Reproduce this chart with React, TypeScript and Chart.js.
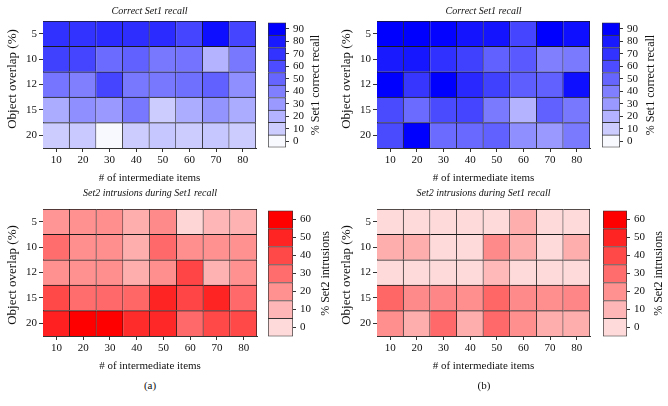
import React, { useEffect, useRef } from 'react';
import { Chart, registerables } from 'chart.js';

Chart.register(...registerables);

// ---------- data ----------
const intermediateItems = ['10', '20', '30', '40', '50', '60', '70', '80'];
const overlapRows = ['5', '10', '12', '15', '20']; // top to bottom
const recallTicks = [0, 10, 20, 30, 40, 50, 60, 70, 80, 90];
const intrusionTicks = [0, 10, 20, 30, 40, 50, 60];

// % Set1 correct recall, rows = overlap 5,10,12,15,20 ; cols = 10..80 items
const recallA = [
  [71, 70, 73, 72, 73, 63, 84, 63],
  [65, 63, 48, 52, 43, 45, 20, 43],
  [44, 40, 63, 43, 43, 46, 52, 34],
  [23, 34, 30, 43, 10, 22, 32, 23],
  [10, 11, 0, 10, 12, 10, 12, 10],
];
const recallB = [
  [90, 90, 89, 82, 82, 63, 90, 84],
  [80, 81, 71, 65, 52, 55, 40, 42],
  [90, 69, 90, 74, 65, 53, 52, 84],
  [61, 48, 61, 63, 42, 20, 52, 43],
  [61, 90, 48, 49, 52, 34, 30, 42],
];
// % Set2 intrusions
const intrusionsA = [
  [19, 20, 21, 12, 22, 1, 10, 11],
  [30, 21, 21, 12, 31, 21, 20, 20],
  [20, 20, 21, 12, 21, 41, 11, 20],
  [40, 30, 31, 32, 50, 41, 50, 31],
  [51, 60, 60, 48, 49, 31, 40, 40],
];
const intrusionsB = [
  [0, 0, 0, 0, 0, 12, 0, 0],
  [12, 12, 0, 0, 22, 12, 0, 12],
  [0, 0, 0, 0, 9, 0, 0, 0],
  [32, 22, 23, 21, 32, 22, 21, 23],
  [21, 12, 31, 12, 31, 21, 12, 12],
];

// ---------- styles ----------
const FONT = "'Liberation Serif', 'DejaVu Serif', serif";
const TEXT = '#111';
const CELL_BORDER = '#1a1a1a';
const AXIS = '#333';

function blueColor(v: number) {
  const x = Math.max(0, Math.min(90, v));
  const c = x <= 10 ? 248 - (44 * x) / 10 : (204 * (90 - x)) / 80;
  const r = Math.round(c);
  return `rgb(${r},${r},255)`;
}
function redColor(v: number) {
  const x = Math.max(0, Math.min(60, v));
  const c = Math.round((218 * (60 - x)) / 60);
  return `rgb(255,${c},${c})`;
}

type HeatProps = {
  values: number[][];
  color: (v: number) => string;
  title: string;
  left: number;
  top: number;
  bottom: number;
  plotL: number;
  plotR: number;
  plotT: number;
  plotB: number;
  titleY: number;
  yTitleX: number;
  yTitleY: number;
};

function Heatmap(p: HeatProps) {
  const ref = useRef<HTMLCanvasElement>(null);
  const width = p.plotR - p.left + 3;
  const height = p.bottom - p.top;
  useEffect(() => {
    const padTop = p.titleY - p.top - 6;
    const padBottom = p.plotT - p.top - 12 - padTop;
    const yWidth = p.plotL - p.left;
    const xHeight = p.bottom - p.plotB;
    const datasets: any[] = [];
    for (let r = p.values.length - 1; r >= 0; r--) {
      datasets.push({
        label: overlapRows[r],
        data: intermediateItems.map(() => 1),
        backgroundColor: p.values[r].map(p.color),
        borderColor: CELL_BORDER,
        borderWidth: { top: 1, right: 1, bottom: 0, left: 0 },
        borderSkipped: false,
        barPercentage: 1,
        categoryPercentage: 1,
      });
    }
    const yTitlePlugin = {
      id: 'yTitle',
      afterDraw(chart: any) {
        const ctx = chart.ctx;
        ctx.save();
        ctx.translate(p.yTitleX - p.left, p.yTitleY - p.top);
        ctx.rotate(-Math.PI / 2);
        ctx.font = `13px ${FONT}`;
        ctx.fillStyle = TEXT;
        ctx.textAlign = 'center';
        ctx.textBaseline = 'middle';
        ctx.fillText('Object overlap (%)', 0, 0);
        ctx.restore();
      },
    };
    const chart = new Chart(ref.current!, {
      type: 'bar',
      data: { labels: intermediateItems, datasets },
      options: {
        responsive: false,
        animation: false,
        devicePixelRatio: 1,
        layout: { padding: { left: 0, right: width - (p.plotR - p.left), top: 0, bottom: 0 } },
        plugins: {
          legend: { display: false },
          tooltip: { enabled: false },
          title: {
            display: true,
            text: p.title,
            fullSize: false,
            font: { family: FONT, size: 10, style: 'italic', weight: 'normal' },
            color: TEXT,
            padding: { top: padTop, bottom: padBottom },
          },
        },
        scales: {
          x: {
            type: 'category',
            stacked: true,
            offset: true,
            grid: { display: true, drawOnChartArea: false, drawTicks: true, tickLength: 4, offset: false, color: AXIS },
            border: { display: true, color: AXIS, width: 1 },
            ticks: { font: { family: FONT, size: 11 }, color: TEXT, padding: 2, maxRotation: 0 },
            title: {
              display: true,
              text: '# of intermediate items',
              font: { family: FONT, size: 11 },
              color: TEXT,
              padding: { top: 0, bottom: 0 },
            },
            afterFit: (s: any) => {
              s.height = xHeight;
            },
          },
          y: {
            type: 'linear',
            stacked: true,
            min: 0,
            max: overlapRows.length,
            afterBuildTicks: (s: any) => {
              s.ticks = overlapRows.map((_, i) => ({ value: i + 0.5 }));
            },
            ticks: {
              callback: (_v: any, i: number) => overlapRows[overlapRows.length - 1 - i],
              font: { family: FONT, size: 11 },
              color: TEXT,
              padding: 2,
              autoSkip: false,
            },
            grid: { display: true, drawOnChartArea: false, drawTicks: true, tickLength: 4, color: AXIS },
            border: { display: true, color: AXIS, width: 1 },
            afterFit: (s: any) => {
              s.width = yWidth;
            },
          },
        },
      } as any,
      plugins: [yTitlePlugin],
    });
    return () => chart.destroy();
  }, []);
  return (
    <canvas
      ref={ref}
      width={width}
      height={height}
      style={{ position: 'absolute', left: p.left, top: p.top, width, height }}
    />
  );
}

type BarProps = {
  ticks: number[];
  color: (v: number) => string;
  title: string;
  cbL: number;
  cbR: number;
  plotT: number;
  plotB: number;
  titleX: number;
};

function Colorbar(p: BarProps) {
  const ref = useRef<HTMLCanvasElement>(null);
  const pad = 8;
  const width = p.cbR - p.cbL + 52;
  const top = p.plotT - pad;
  const height = p.plotB - p.plotT + 2 * pad;
  useEffect(() => {
    const datasets = p.ticks.map((t, k) => ({
      data: [1],
      backgroundColor: p.color(t),
      borderColor: '#333',
      borderWidth: k === 0 ? 1 : { top: 1, left: 1, right: 1, bottom: 0 },
      borderSkipped: false,
      barPercentage: 1,
      categoryPercentage: 1,
    }));
    const titlePlugin = {
      id: 'cbTitle',
      afterDraw(chart: any) {
        const ctx = chart.ctx;
        const ca = chart.chartArea;
        ctx.save();
        ctx.translate(p.titleX - p.cbL, (ca.top + ca.bottom) / 2);
        ctx.rotate(-Math.PI / 2);
        ctx.font = `12px ${FONT}`;
        ctx.fillStyle = TEXT;
        ctx.textAlign = 'center';
        ctx.textBaseline = 'middle';
        ctx.fillText(p.title, 0, 0);
        ctx.restore();
      },
    };
    const chart = new Chart(ref.current!, {
      type: 'bar',
      data: { labels: [''], datasets },
      options: {
        responsive: false,
        animation: false,
        devicePixelRatio: 1,
        layout: { padding: { left: 0, right: 0, top: pad, bottom: pad } },
        plugins: { legend: { display: false }, tooltip: { enabled: false }, title: { display: false } },
        scales: {
          x: { display: false, stacked: true, offset: true },
          y: {
            position: 'right',
            type: 'linear',
            stacked: true,
            min: 0,
            max: p.ticks.length,
            afterBuildTicks: (s: any) => {
              s.ticks = p.ticks.map((_, i) => ({ value: i + 0.5 }));
            },
            ticks: {
              callback: (_v: any, i: number) => String(p.ticks[i]),
              font: { family: FONT, size: 11 },
              color: TEXT,
              padding: 4,
              autoSkip: false,
            },
            grid: { display: true, drawOnChartArea: false, drawTicks: true, tickLength: 3, color: AXIS },
            border: { display: false },
            afterFit: (s: any) => {
              s.width = width - (p.cbR - p.cbL);
            },
          },
        },
      } as any,
      plugins: [titlePlugin],
    });
    return () => chart.destroy();
  }, []);
  return (
    <canvas
      ref={ref}
      width={width}
      height={height}
      style={{ position: 'absolute', left: p.cbL, top, width, height }}
    />
  );
}

export default function App() {
  const topGeo = { top: 0, bottom: 185, plotT: 21, plotB: 148, titleY: 11.5, yTitleY: 79 };
  const botGeo = { top: 185, bottom: 373, plotT: 209, plotB: 336, titleY: 193, yTitleY: 275 };
  return (
    <div
      style={{
        position: 'fixed',
        left: 0,
        top: 0,
        width: 668,
        height: 406,
        background: '#fff',
        overflow: 'hidden',
      }}
    >
      <Heatmap values={recallA} color={blueColor} title="Correct Set1 recall" left={0} plotL={43} plotR={256} yTitleX={13} {...topGeo} />
      <Colorbar ticks={recallTicks} color={blueColor} title="% Set1 correct recall" cbL={268} cbR={286} plotT={20} plotB={150} titleX={316} />
      <Heatmap values={recallB} color={blueColor} title="Correct Set1 recall" left={334} plotL={377} plotR={590} yTitleX={347} {...topGeo} />
      <Colorbar ticks={recallTicks} color={blueColor} title="% Set1 correct recall" cbL={602} cbR={620} plotT={20} plotB={150} titleX={651} />

      <Heatmap values={intrusionsA} color={redColor} title="Set2 intrusions during Set1 recall" left={0} plotL={43} plotR={257} yTitleX={13} {...botGeo} />
      <Colorbar ticks={intrusionTicks} color={redColor} title="% Set2 intrusions" cbL={268} cbR={293} plotT={208} plotB={339} titleX={326} />
      <Heatmap values={intrusionsB} color={redColor} title="Set2 intrusions during Set1 recall" left={334} plotL={377} plotR={590} yTitleX={347} {...botGeo} />
      <Colorbar ticks={intrusionTicks} color={redColor} title="% Set2 intrusions" cbL={603} cbR={627} plotT={208} plotB={339} titleX={659} />

      <div style={{ position: 'absolute', left: 130, width: 40, top: 377, textAlign: 'center', font: `11px ${FONT}`, color: TEXT, lineHeight: '16px' }}>(a)</div>
      <div style={{ position: 'absolute', left: 464, width: 40, top: 377, textAlign: 'center', font: `11px ${FONT}`, color: TEXT, lineHeight: '16px' }}>(b)</div>
    </div>
  );
}
